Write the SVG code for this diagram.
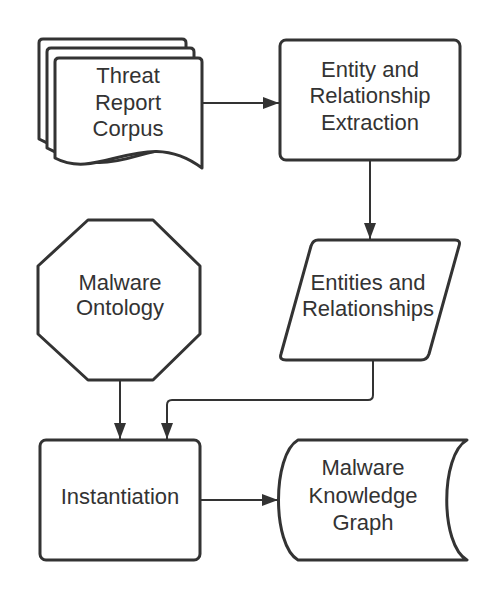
<svg xmlns="http://www.w3.org/2000/svg" width="500" height="600" viewBox="0 0 500 600">
<style>
.shape{fill:#fff;stroke:#333;stroke-width:3;stroke-linejoin:round}
.conn{fill:none;stroke:#333;stroke-width:2;stroke-linejoin:round}
.lbl{font-family:"Liberation Sans",Arial,sans-serif;font-size:22px;fill:#333;text-anchor:middle}
</style>
<defs>
<marker id="arr" markerUnits="userSpaceOnUse" markerWidth="16" markerHeight="12" refX="16" refY="6" orient="auto">
<path d="M0,0 L16,6 L0,12 Z" fill="#333"/>
</marker>
<path id="page" d="M4,0 L143,0 Q147,0 147,4 L147,110 C102,82 75,140 0,100 L0,4 Q0,0 4,0 Z"/>
</defs>
<rect width="500" height="600" fill="#fff"/>
<g id="connectors">
<line class="conn" x1="202" y1="103" x2="279" y2="103" marker-end="url(#arr)"/>
<line class="conn" x1="370" y1="160" x2="370" y2="239" marker-end="url(#arr)"/>
<path class="conn" d="M373,360 L373,395 Q373,400 368,400 L172,400 Q167,400 167,405 L167,439" marker-end="url(#arr)"/>
<line class="conn" x1="120" y1="380" x2="120" y2="439" marker-end="url(#arr)"/>
<line class="conn" x1="200" y1="500" x2="278" y2="500" marker-end="url(#arr)"/>
</g>
<g id="threat-report-corpus">
<use href="#page" class="shape" x="39" y="39"/>
<use href="#page" class="shape" x="47" y="48"/>
<path class="shape" d="M59,58 L198,58 Q202,58 202,62 L202,168 C145,125 100,182 55,158 L55,62 Q55,58 59,58 Z"/>
<text class="lbl" x="128" y="83">Threat</text>
<text class="lbl" x="128" y="110">Report</text>
<text class="lbl" x="128" y="136">Corpus</text>
</g>
<g id="entity-extraction">
<rect class="shape" x="280" y="40" width="180" height="120" rx="6"/>
<text class="lbl" x="370" y="77">Entity and</text>
<text class="lbl" x="370" y="103">Relationship</text>
<text class="lbl" x="370" y="130">Extraction</text>
</g>
<g id="entities-relationships">
<path class="shape" d="M318,240 L455,240 Q461,240 459,246 L429,354 Q427,360 421,360 L286,360 Q279,360 281,354 L311,246 Q313,240 318,240 Z"/>
<text class="lbl" x="368" y="290">Entities and</text>
<text class="lbl" x="368" y="316">Relationships</text>
</g>
<g id="malware-ontology">
<path class="shape" d="M88,220 L153,220 L200,266 L200,334 L153,380 L88,380 L38,334 L38,266 Z"/>
<text class="lbl" x="120" y="290">Malware</text>
<text class="lbl" x="120" y="315">Ontology</text>
</g>
<g id="instantiation">
<rect class="shape" x="40" y="440" width="160" height="120" rx="6"/>
<text class="lbl" x="120" y="504">Instantiation</text>
</g>
<g id="knowledge-graph">
<path class="shape" d="M298,440 L467,440 C440,455 440,545 467,560 L298,560 C272,545 272,455 298,440 Z"/>
<text class="lbl" x="363" y="475">Malware</text>
<text class="lbl" x="363" y="503">Knowledge</text>
<text class="lbl" x="363" y="530">Graph</text>
</g>
</svg>
